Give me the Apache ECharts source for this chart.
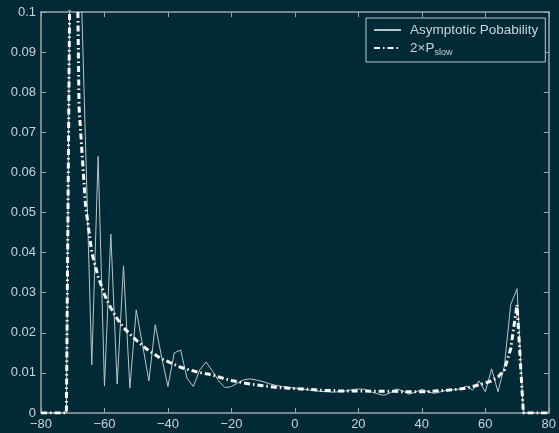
<!DOCTYPE html>
<html>
<head>
<meta charset="utf-8">
<script src="https://cdn.jsdelivr.net/npm/echarts@6/dist/echarts.min.js"></script>
<style>
html, body { margin: 0; padding: 0; background: #022a36; }
#chart { width: 559px; height: 433px; }
</style>
</head>
<body>
<div id="chart"></div>
<script>
//x positions, step 2
var xs = [-80,-78,-76,-74,-72,-70,-68,-66,-64,-62,-60,-58,-56,-54,-52,-50,-48,-46,-44,-42,-40,
	-38,-36,-34,-32,-30,-28,-26,-24,-22,-20,-18,-16,-14,-12,-10,-8,-6,-4,-2,0,
	2,4,6,8,10,12,14,16,18,20,22,24,26,28,30,32,34,36,38,40,
	42,44,46,48,50,52,54,56,58,60,62,64,66,68,70,72,74,76,78,80];

//Asymptotic Pobability (thin line)
var asymptotic = [0,0,0,0,0,0.2,0.125,0.068,0.012,0.064,0.0067,0.0446,0.0072,0.0367,0.0062,0.0257,0.017,0.008,0.022,0.014,0.0066,
	0.015,0.0157,0.0087,0.0066,0.0107,0.0127,0.0105,0.008,0.0063,0.0066,0.0075,0.0083,0.0085,0.0082,0.0078,0.0073,0.0069,0.0066,0.0064,0.0062,
	0.006,0.0058,0.0056,0.0054,0.0053,0.0052,0.0053,0.0055,0.0058,0.006,0.0059,0.0053,0.0048,0.0044,0.005,0.006,0.0055,0.0047,0.0052,0.0059,
	0.0053,0.0049,0.0053,0.0057,0.0058,0.006,0.0067,0.0057,0.008,0.0053,0.011,0.0053,0.0116,0.027,0.031,0,0,0,0,0];

//2xP_slow (dash-dot line)
var pSlow = [0,0,0,0,0,0.2,0.076,0.052,0.040,0.034,0.0295,0.0262,0.0235,0.0213,0.0197,0.0182,0.0168,0.0155,0.0145,0.0135,0.0128,
	0.0121,0.0114,0.0109,0.0105,0.0101,0.0098,0.0095,0.009,0.0085,0.0081,0.0078,0.0075,0.0072,0.007,0.0068,0.0066,0.0064,0.0063,0.0062,0.0061,
	0.006,0.0059,0.0058,0.0057,0.0056,0.0056,0.0055,0.0055,0.0055,0.0055,0.0055,0.0054,0.0054,0.0054,0.0054,0.0054,0.0053,0.0053,0.0053,0.0053,
	0.0053,0.0055,0.0056,0.0057,0.0058,0.006,0.0062,0.0066,0.007,0.0075,0.008,0.009,0.0107,0.016,0.027,0,0,0,0,0];

var seriesNames = ['Asymptotic Pobability', '2×P_slow'];

function pairs(ys) {
	var res = [];
	for (var i = 0; i < xs.length; i++) {
		res.push([xs[i], ys[i]]);
	}
	return res;
}

var axisColor = '#9ba6a8';
var labelColor = '#c9d3db';

//MATLAB-style box axis: ticks inside, no grid lines
function boxAxis(extra) {
	var a = {
		type: 'value',
		axisLine: { show: true, onZero: false, lineStyle: { color: axisColor, width: 1.5 } },
		axisTick: { show: true, inside: true, length: 5, lineStyle: { color: axisColor } },
		splitLine: { show: false }
	};
	for (var k in extra) a[k] = extra[k];
	return a;
}

var chart = echarts.init(document.getElementById('chart'));
var option = {
	backgroundColor: '#022a36',
	animation: false,
	textStyle: { fontFamily: 'Liberation Sans, Arial, sans-serif' },
	grid: { left: 41, right: 8, top: 12, bottom: 20 },
	legend: {
		left: 366,
		top: 18,
		orient: 'vertical',
		padding: [5, 7, 5, 7],
		itemGap: 4,
		itemWidth: 27,
		itemHeight: 12,
		borderColor: '#c0c8ca',
		borderWidth: 1,
		backgroundColor: '#022a36',
		itemStyle: { opacity: 0 },
		data: seriesNames,
		formatter: function (name) {
			if (name == '2×P_slow') {
				return '{main|2×P}{sub|slow}';
			}
			return '{main|' + name + '}';
		},
		textStyle: {
			color: labelColor,
			rich: {
				main: { fontSize: 13.5, color: labelColor, padding: [0, 0, 0, 4] },
				sub: { fontSize: 9, color: labelColor, padding: [9, 0, 0, 0] }
			}
		}
	},
	xAxis: [
		boxAxis({
			min: -80, max: 80, interval: 20, position: 'bottom',
			axisLabel: {
				color: labelColor, fontSize: 13, margin: 5,
				formatter: function (v) { return (v + '').replace('-', '−'); }
			}
		}),
		boxAxis({ min: -80, max: 80, interval: 20, position: 'top', axisLabel: { show: false } })
	],
	yAxis: [
		boxAxis({
			min: 0, max: 0.1, interval: 0.01, position: 'left',
			axisLabel: {
				color: labelColor, fontSize: 13, margin: 5,
				formatter: function (v) { return +v.toFixed(2) + ''; }
			}
		}),
		boxAxis({ min: 0, max: 0.1, interval: 0.01, position: 'right', axisLabel: { show: false } })
	],
	series: [
		{
			name: seriesNames[0],
			type: 'line',
			symbol: 'none',
			lineStyle: { color: '#b9c6c8', width: 1 },
			itemStyle: { color: '#b9c6c8' },
			data: pairs(asymptotic)
		},
		{
			name: seriesNames[1],
			type: 'line',
			symbol: 'none',
			lineStyle: { color: '#ffffff', width: 3, type: [6, 3, 1.5, 3] },
			itemStyle: { color: '#ffffff' },
			data: pairs(pSlow)
		}
	]
};
chart.setOption(option);
</script>
</body>
</html>
